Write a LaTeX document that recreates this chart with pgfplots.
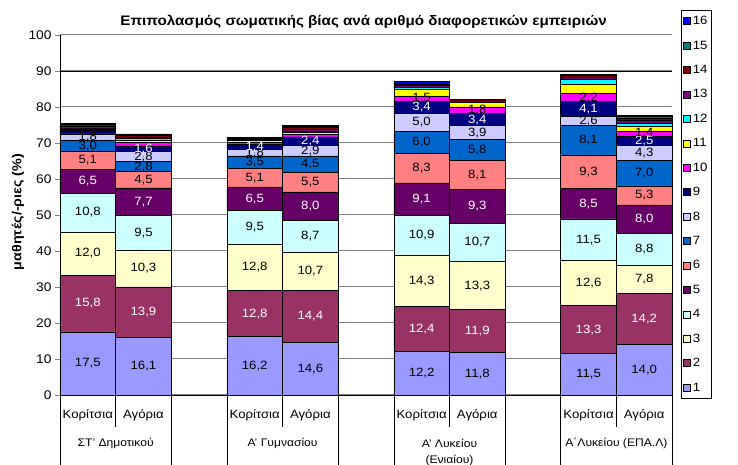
\documentclass[border=0pt]{standalone}
\usepackage{fontspec}
\setmainfont{Liberation Sans}[FakeStretch=1.1]
\usepackage{pgfplots}
\usepackage{pgfplotstable}
\pgfplotsset{compat=1.18}

\definecolor{c1}{HTML}{9999FF}
\definecolor{c2}{HTML}{993366}
\definecolor{c3}{HTML}{FFFFCC}
\definecolor{c4}{HTML}{CCFFFF}
\definecolor{c5}{HTML}{660066}
\definecolor{c6}{HTML}{FF8080}
\definecolor{c7}{HTML}{0066CC}
\definecolor{c8}{HTML}{CCCCFF}
\definecolor{c9}{HTML}{000080}
\definecolor{c10}{HTML}{FF00FF}
\definecolor{c11}{HTML}{FFFF00}
\definecolor{c12}{HTML}{00FFFF}
\definecolor{c13}{HTML}{800080}
\definecolor{c14}{HTML}{800000}
\definecolor{c15}{HTML}{008080}
\definecolor{c16}{HTML}{0000FF}
\definecolor{gridgray}{HTML}{808080}

\pgfplotstableread{
x  s1   s2   s3   s4   s5  s6  s7  s8  s9  s10 s11 s12 s13 s14 s15 s16
0  17.5 15.8 12.0 10.8 6.5 5.1 3.0 1.8 1.0 0.4 0.1 0.1 0.6 0.4 0.1 0.2
1  16.1 13.9 10.3 9.5  7.7 4.5 2.8 2.8 1.6 1.0 0.5 0.6 0.4 0.4 0.2 0.2
3  16.2 12.8 12.8 9.5  6.5 5.1 3.5 1.8 1.4 0.6 0.5 0.1 0.3 0.3 0.1 0.1
4  14.6 14.4 10.7 8.7  8.0 5.5 4.5 2.9 2.4 0.7 0.6 0.2 0.6 0.5 0.3 0.3
6  12.2 12.4 14.3 10.9 9.1 8.3 6.0 5.0 3.4 1.5 1.8 0.5 0.6 0.4 0.3 0.3
7  11.8 11.9 13.3 10.7 9.3 8.1 5.8 3.9 3.4 1.8 1.3 0.1 0.3 0.3 0.1 0.1
9  11.5 13.3 12.6 11.5 8.5 9.3 8.1 2.6 4.1 2.2 2.6 1.3 0.7 0.4 0.1 0.2
10 14.0 14.2 7.8  8.8  8.0 5.3 7.0 4.3 2.5 1.4 1.2 1.0 0.8 0.6 0.4 0.4
}\data

% mid-heights of the labelled segments (cumulative sums of the values below)
\pgfplotstablecreatecol[create col/expr={\thisrow{s1}/2}]{m1}\data
\pgfplotstablecreatecol[create col/expr={\thisrow{s1}+\thisrow{s2}/2}]{m2}\data
\pgfplotstablecreatecol[create col/expr={\thisrow{s1}+\thisrow{s2}+\thisrow{s3}/2}]{m3}\data
\pgfplotstablecreatecol[create col/expr={\thisrow{s1}+\thisrow{s2}+\thisrow{s3}+\thisrow{s4}/2}]{m4}\data
\pgfplotstablecreatecol[create col/expr={\thisrow{s1}+\thisrow{s2}+\thisrow{s3}+\thisrow{s4}+\thisrow{s5}/2}]{m5}\data
\pgfplotstablecreatecol[create col/expr={\thisrow{s1}+\thisrow{s2}+\thisrow{s3}+\thisrow{s4}+\thisrow{s5}+\thisrow{s6}/2}]{m6}\data
\pgfplotstablecreatecol[create col/expr={\thisrow{s1}+\thisrow{s2}+\thisrow{s3}+\thisrow{s4}+\thisrow{s5}+\thisrow{s6}+\thisrow{s7}/2}]{m7}\data
\pgfplotstablecreatecol[create col/expr={\thisrow{s1}+\thisrow{s2}+\thisrow{s3}+\thisrow{s4}+\thisrow{s5}+\thisrow{s6}+\thisrow{s7}+\thisrow{s8}/2}]{m8}\data
\pgfplotstablecreatecol[create col/expr={\thisrow{s1}+\thisrow{s2}+\thisrow{s3}+\thisrow{s4}+\thisrow{s5}+\thisrow{s6}+\thisrow{s7}+\thisrow{s8}+\thisrow{s9}/2}]{m9}\data
\pgfplotstablecreatecol[create col/expr={\thisrow{s1}+\thisrow{s2}+\thisrow{s3}+\thisrow{s4}+\thisrow{s5}+\thisrow{s6}+\thisrow{s7}+\thisrow{s8}+\thisrow{s9}+\thisrow{s10}/2}]{m10}\data

\pgfplotsset{
  lab/.style={only marks, mark=*, mark size=0.01pt, mark options={draw=none, fill=none},
    nodes near coords, point meta=explicit,
    every node near coord/.append style={anchor=center, inner sep=0pt,
      font=\fontsize{12}{14}\selectfont, text=#1}},
  lab/.default=black,
}

\begin{document}
\begin{tikzpicture}
\useasboundingbox (-60pt,-70pt) rectangle (678pt,395pt);
\begin{axis}[
  at={(0pt,0pt)}, anchor=south west,
  scale only axis, width=612pt, height=360pt,
  ybar stacked, bar width=55.64pt,
  xmin=-0.5, xmax=10.5, ymin=0, ymax=100,
  ytick={0,10,...,100},
  xtick={0,1,3,4,6,7,9,10},
  xticklabels={Κορίτσια,Αγόρια,Κορίτσια,Αγόρια,Κορίτσια,Αγόρια,Κορίτσια,Αγόρια},
  x tick style={draw=none},
  xticklabel style={yshift=-6pt, font=\fontsize{12}{14}\selectfont},
  yticklabel style={font=\fontsize{12.5}{14}\selectfont},
  /pgf/number format/assume math mode=true,
  axis x line*=bottom, axis y line*=left,
  tick align=outside, major tick length=5pt,
  ymajorgrids, major grid style={gridgray, line width=1pt},
  axis line style={black, line width=0.8pt},
  clip=false,
  reverse legend,
  legend cell align=left,
  legend image code/.code={\draw[#1, draw=black, line width=0.6pt] (0pt,-3.5pt) rectangle (7pt,3.5pt);},
  legend style={at={(1.0147,1.0694)}, anchor=north west, draw=black, line width=0.6pt,
    font=\fontsize{12}{14}\selectfont, row sep=10.6pt, inner ysep=4pt, inner xsep=2pt},
  every axis plot/.append style={draw=black, line width=0.6pt},
]
\draw[black, line width=0.4pt] (axis cs:-0.5,90) -- (axis cs:10.5,90);
\addplot[fill=c1] table[x=x,y=s1]{\data};
\addplot[fill=c2] table[x=x,y=s2]{\data};
\addplot[fill=c3] table[x=x,y=s3]{\data};
\addplot[fill=c4] table[x=x,y=s4]{\data};
\addplot[fill=c5] table[x=x,y=s5]{\data};
\addplot[fill=c6] table[x=x,y=s6]{\data};
\addplot[fill=c7] table[x=x,y=s7]{\data};
\addplot[fill=c8] table[x=x,y=s8]{\data};
\addplot[fill=c9] table[x=x,y=s9]{\data};
\addplot[fill=c10] table[x=x,y=s10]{\data};
\addplot[fill=c11] table[x=x,y=s11]{\data};
\addplot[fill=c12] table[x=x,y=s12]{\data};
\addplot[fill=c13] table[x=x,y=s13]{\data};
\addplot[fill=c14] table[x=x,y=s14]{\data};
\addplot[fill=c15] table[x=x,y=s15]{\data};
\addplot[fill=c16] table[x=x,y=s16]{\data};
\legend{1,2,3,4,5,6,7,8,9,10,11,12,13,14,15,16}
\draw[black, line width=0.6pt] (axis cs:0.5,0) -- ++(0pt,-32pt);
\draw[black, line width=0.6pt] (axis cs:3.5,0) -- ++(0pt,-32pt);
\draw[black, line width=0.6pt] (axis cs:6.5,0) -- ++(0pt,-32pt);
\draw[black, line width=0.6pt] (axis cs:9.5,0) -- ++(0pt,-32pt);
\draw[black, line width=0.6pt] (axis cs:-0.5,0) -- ++(0pt,-72pt);
\draw[black, line width=0.6pt] (axis cs:1.5,0) -- ++(0pt,-72pt);
\draw[black, line width=0.6pt] (axis cs:2.5,0) -- ++(0pt,-72pt);
\draw[black, line width=0.6pt] (axis cs:4.5,0) -- ++(0pt,-72pt);
\draw[black, line width=0.6pt] (axis cs:5.5,0) -- ++(0pt,-72pt);
\draw[black, line width=0.6pt] (axis cs:7.5,0) -- ++(0pt,-72pt);
\draw[black, line width=0.6pt] (axis cs:8.5,0) -- ++(0pt,-72pt);
\draw[black, line width=0.6pt] (axis cs:10.5,0) -- ++(0pt,-72pt);
\node[font=\fontsize{11}{13}\selectfont] at (axis cs:0.5,0) [yshift=-48pt] {ΣΤ' Δημοτικού};
\node[font=\fontsize{11}{13}\selectfont] at (axis cs:3.5,0) [yshift=-48pt] {Α' Γυμνασίου};
\node[font=\fontsize{11}{13}\selectfont] at (axis cs:6.5,0) [yshift=-48pt] {Α' Λυκείου};
\node[font=\fontsize{11}{13}\selectfont] at (axis cs:6.5,0) [yshift=-65pt] {(Ενιαίου)};
\node[font=\fontsize{11}{13}\selectfont] at (axis cs:9.5,0) [yshift=-48pt] {Α΄Λυκείου (ΕΠΑ.Λ)};
\node[font=\bfseries\fontsize{13.8}{16}\selectfont] at (rel axis cs:0.496,1) [yshift=13pt]
  {Επιπολασμός σωματικής βίας ανά αριθμό διαφορετικών εμπειριών};
\node[font=\bfseries\fontsize{13}{15}\selectfont, rotate=90] at ([xshift=-42pt]rel axis cs:0,0.508)
  {μαθητές/-ριες (\%)};
\end{axis}
% overlay axis carrying the segment labels
\begin{axis}[
  at={(0pt,0pt)}, anchor=south west,
  scale only axis, width=612pt, height=360pt,
  xmin=-0.5, xmax=10.5, ymin=0, ymax=100,
  axis lines=none, clip=false,
  /pgf/number format/.cd, use comma, fixed, fixed zerofill, precision=1, assume math mode=true,
]
\addplot[lab] table[x=x,y=m1,meta=s1]{\data};
\addplot[lab=white] table[x=x,y=m2,meta=s2]{\data};
\addplot[lab] table[x=x,y=m3,meta=s3]{\data};
\addplot[lab] table[x=x,y=m4,meta=s4]{\data};
\addplot[lab=white] table[x=x,y=m5,meta=s5]{\data};
\addplot[lab] table[x=x,y=m6,meta=s6]{\data};
\addplot[lab] table[x=x,y=m7,meta=s7]{\data};
\addplot[lab] table[x=x,y=m8,meta=s8]{\data};
\addplot[lab=white, skip coords between index={0}{1}] table[x=x,y=m9,meta=s9]{\data};
\addplot[lab, skip coords between index={0}{4}] table[x=x,y=m10,meta=s10]{\data};
\end{axis}
\end{tikzpicture}
\end{document}
